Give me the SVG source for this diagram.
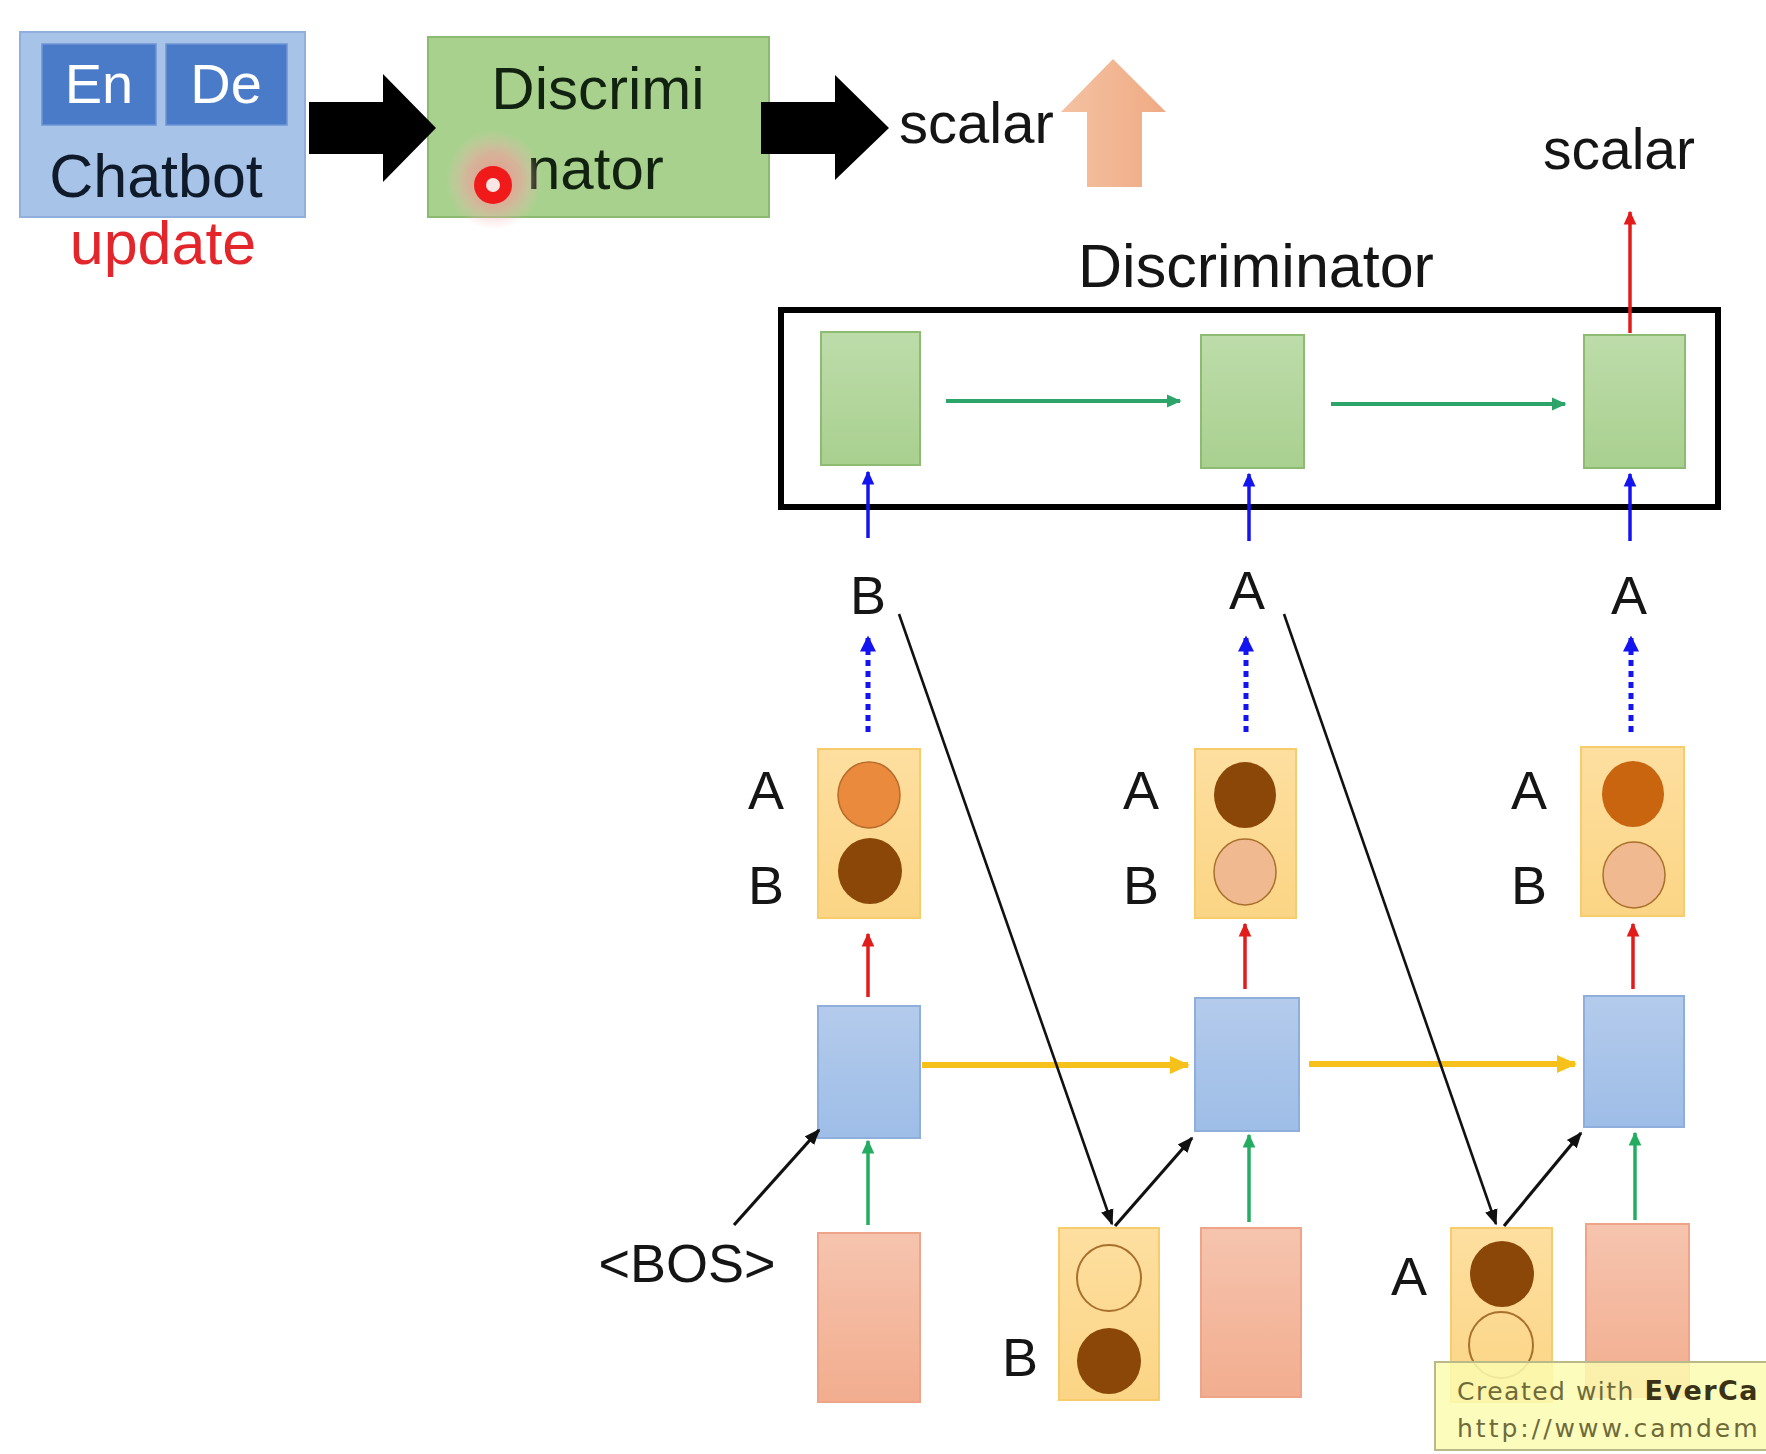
<svg xmlns="http://www.w3.org/2000/svg" width="1766" height="1454" viewBox="0 0 1766 1454">
<style>
text{font-family:"Liberation Sans",Arial,sans-serif;fill:#151515}
.lbl{font-size:54px;text-anchor:middle}
.big{font-size:60px}
.blue{fill:url(#gBlue);stroke:#8eaedb;stroke-width:2}
.green{fill:url(#gGreen);stroke:#8dbb72;stroke-width:2}
.pink{fill:url(#gPink);stroke:#eea488;stroke-width:2}
.out{fill:url(#gOut);stroke:#f6cc6c;stroke-width:2}
.empty{fill:none;stroke:#a8702c;stroke-width:2}
.dark{fill:#8a4708}
.peach{fill:#f1b98f;stroke:#a8702c;stroke-width:1.5}
.c-red{stroke:#e21b1b;stroke-width:3.5;fill:none}
.c-blue{stroke:#1414f0;stroke-width:3.5;fill:none}
.c-dot{stroke:#1414f0;stroke-width:5;fill:none;stroke-dasharray:6 5}
.c-teal{stroke:#2da56a;stroke-width:4;fill:none}
.c-green{stroke:#24ad60;stroke-width:3.5;fill:none}
.c-yel{stroke:#f6c11a;stroke-width:6;fill:none}
.c-blk{stroke:#111;stroke-width:2.6;fill:none}
.c-blk3{stroke:#111;stroke-width:3.2;fill:none}
.wm{font-family:'DejaVu Sans',Verdana,sans-serif;font-size:25px;fill:#6e6a3a}
</style>
<defs>
<linearGradient id="gBlue" x1="0" y1="0" x2="0" y2="1"><stop offset="0" stop-color="#b4cbec"/><stop offset="1" stop-color="#9ebde7"/></linearGradient>
<linearGradient id="gGreen" x1="0" y1="0" x2="0" y2="1"><stop offset="0" stop-color="#bddcaa"/><stop offset="1" stop-color="#a9d08f"/></linearGradient>
<linearGradient id="gPink" x1="0" y1="0" x2="0" y2="1"><stop offset="0" stop-color="#f6c4ae"/><stop offset="1" stop-color="#f2ad8f"/></linearGradient>
<linearGradient id="gOut" x1="0" y1="0" x2="0" y2="1"><stop offset="0" stop-color="#fedfa0"/><stop offset="1" stop-color="#fbd585"/></linearGradient>
<linearGradient id="gPeachArrow" x1="0" y1="0" x2="1" y2="0"><stop offset="0" stop-color="#f4c2a2"/><stop offset="1" stop-color="#f0aa84"/></linearGradient>
<radialGradient id="gGlow"><stop offset="0" stop-color="#f08c8c" stop-opacity="0.85"/><stop offset="0.55" stop-color="#f2a0a0" stop-opacity="0.6"/><stop offset="1" stop-color="#f8c0c0" stop-opacity="0"/></radialGradient>
<marker id="mRed" viewBox="0 0 10 10" refX="9" refY="5" markerWidth="14" markerHeight="14" markerUnits="userSpaceOnUse" orient="auto"><path d="M0,0.5 L10,5 L0,9.5 z" fill="#e21b1b"/></marker>
<marker id="mBlue" viewBox="0 0 10 10" refX="9" refY="5" markerWidth="14" markerHeight="14" markerUnits="userSpaceOnUse" orient="auto"><path d="M0,0.5 L10,5 L0,9.5 z" fill="#1414f0"/></marker>
<marker id="mBlueDot" viewBox="0 0 10 10" refX="9" refY="5" markerWidth="22" markerHeight="16" markerUnits="userSpaceOnUse" orient="auto"><path d="M0,0 L10,5 L0,10 z" fill="#1414f0"/></marker>
<marker id="mTeal" viewBox="0 0 10 10" refX="9" refY="5" markerWidth="15" markerHeight="15" markerUnits="userSpaceOnUse" orient="auto"><path d="M0,0.5 L10,5 L0,9.5 z" fill="#2da56a"/></marker>
<marker id="mGreen" viewBox="0 0 10 10" refX="9" refY="5" markerWidth="14" markerHeight="14" markerUnits="userSpaceOnUse" orient="auto"><path d="M0,0.5 L10,5 L0,9.5 z" fill="#24ad60"/></marker>
<marker id="mYel" viewBox="0 0 10 10" refX="9" refY="5" markerWidth="20" markerHeight="20" markerUnits="userSpaceOnUse" orient="auto"><path d="M0,0.5 L10,5 L0,9.5 z" fill="#f6c11a"/></marker>
<marker id="mBlk" viewBox="0 0 10 10" refX="9" refY="5" markerWidth="16" markerHeight="16" markerUnits="userSpaceOnUse" orient="auto"><path d="M0,1 L10,5 L0,9 z" fill="#111"/></marker>
</defs>
<rect width="1766" height="1454" fill="#ffffff"/>

<!-- Top section -->
<g id="chatbot">
<rect x="20" y="32" width="285" height="185" fill="#a8c3e8" stroke="#8fb0dc" stroke-width="2"/>
<rect x="42" y="44" width="114" height="81" fill="#4a7bc9" stroke="#6d95d4" stroke-width="1.5"/>
<rect x="166" y="44" width="121" height="81" fill="#4a7bc9" stroke="#6d95d4" stroke-width="1.5"/>
<text x="99" y="103" style="font-size:56px;fill:#ffffff;text-anchor:middle">En</text>
<text x="226" y="103" style="font-size:56px;fill:#ffffff;text-anchor:middle">De</text>
<text x="156" y="197" style="font-size:61px;fill:#0f1a2a;text-anchor:middle">Chatbot</text>
</g>
<g id="update-label">
<text x="163" y="264" style="font-size:61px;fill:#e3262b;text-anchor:middle">update</text>
</g>
<g id="discriminator-top">
<rect x="428" y="37" width="341" height="180" fill="#a9d18e" stroke="#8cba70" stroke-width="2"/>
<text x="598" y="109" class="big" style="text-anchor:middle;fill:#112211">Discrimi</text>
<text x="527" y="189" class="big" style="fill:#112211">nator</text>
<ellipse cx="494" cy="180" rx="48" ry="50" fill="url(#gGlow)"/>
<circle cx="493" cy="185" r="19" fill="#f01a1a"/>
<circle cx="493" cy="185" r="7" fill="#fbe6e6"/>
</g>
<g id="big-arrows">
<polygon points="309,102 383,102 383,74 436,128 383,182 383,154 309,154" fill="#000"/>
<polygon points="761,102 835,102 835,75 889,128 835,180 835,154 761,154" fill="#000"/>
</g>
<g id="scalar-top">
<text x="899" y="143" style="font-size:58px">scalar</text>
</g>
<g id="peach-arrow">
<polygon points="1113,59 1166,112 1142,112 1142,187 1087,187 1087,112 1061,112" fill="url(#gPeachArrow)"/>
</g>

<!-- Right section -->
<g id="scalar-right"><text x="1619" y="169" style="font-size:57px;text-anchor:middle">scalar</text></g>
<g id="disc-title"><text x="1256" y="287" style="font-size:61px;text-anchor:middle">Discriminator</text></g>
<g id="disc-frame"><rect x="781" y="310" width="937" height="197" fill="none" stroke="#000" stroke-width="6"/></g>
<g id="d1"><rect x="821" y="332" width="99" height="133" class="green"/></g>
<g id="d2"><rect x="1201" y="335" width="103" height="133" class="green"/></g>
<g id="d3"><rect x="1584" y="335" width="101" height="133" class="green"/></g>

<g id="tok1"><text x="868" y="614" class="lbl">B</text></g>
<g id="tok2"><text x="1247" y="609" class="lbl">A</text></g>
<g id="tok3"><text x="1629" y="614" class="lbl">A</text></g>

<g id="o1">
<rect x="818" y="749" width="102" height="169" class="out"/>
<ellipse cx="869" cy="795" rx="31" ry="33" fill="#e98a3c" stroke="#b86a2a" stroke-width="1.5"/>
<ellipse cx="870" cy="871" rx="32" ry="33" class="dark"/>
<text x="766" y="809" class="lbl">A</text>
<text x="766" y="904" class="lbl">B</text>
</g>
<g id="o2">
<rect x="1195" y="749" width="101" height="169" class="out"/>
<ellipse cx="1245" cy="795" rx="31" ry="33" class="dark"/>
<ellipse cx="1245" cy="872" rx="31" ry="33" class="peach"/>
<text x="1141" y="809" class="lbl">A</text>
<text x="1141" y="904" class="lbl">B</text>
</g>
<g id="o3">
<rect x="1581" y="747" width="103" height="169" class="out"/>
<ellipse cx="1633" cy="794" rx="31" ry="33" fill="#c9640f"/>
<ellipse cx="1634" cy="875" rx="31" ry="33" class="peach"/>
<text x="1529" y="809" class="lbl">A</text>
<text x="1529" y="904" class="lbl">B</text>
</g>

<g id="h1"><rect x="818" y="1006" width="102" height="132" class="blue"/></g>
<g id="h2"><rect x="1195" y="998" width="104" height="133" class="blue"/></g>
<g id="h3"><rect x="1584" y="996" width="100" height="131" class="blue"/></g>

<g id="x1"><rect x="818" y="1233" width="102" height="169" class="pink"/></g>
<g id="x2"><rect x="1201" y="1228" width="100" height="169" class="pink"/></g>
<g id="x3"><rect x="1586" y="1224" width="103" height="173" class="pink"/></g>

<g id="bos"><text x="687" y="1282" class="lbl">&lt;BOS&gt;</text></g>

<g id="s1">
<rect x="1059" y="1228" width="100" height="172" class="out"/>
<ellipse cx="1109" cy="1278" rx="32" ry="33" class="empty"/>
<ellipse cx="1109" cy="1361" rx="32" ry="33" class="dark"/>
<text x="1020" y="1376" class="lbl">B</text>
</g>
<g id="s2">
<rect x="1451" y="1228" width="101" height="174" class="out"/>
<ellipse cx="1502" cy="1274" rx="32" ry="33" class="dark"/>
<ellipse cx="1501" cy="1345" rx="32" ry="33" class="empty"/>
<text x="1409" y="1295" class="lbl">A</text>
</g>

<g id="connectors">
<line x1="1630" y1="333" x2="1630" y2="212" class="c-red" marker-end="url(#mRed)"/>
<line x1="946" y1="401" x2="1180" y2="401" class="c-teal" marker-end="url(#mTeal)"/>
<line x1="1331" y1="404" x2="1565" y2="404" class="c-teal" marker-end="url(#mTeal)"/>
<line x1="868" y1="538" x2="868" y2="472" class="c-blue" marker-end="url(#mBlue)"/>
<line x1="1249" y1="541" x2="1249" y2="474" class="c-blue" marker-end="url(#mBlue)"/>
<line x1="1630" y1="541" x2="1630" y2="474" class="c-blue" marker-end="url(#mBlue)"/>
<line x1="868" y1="732" x2="868" y2="637" class="c-dot" marker-end="url(#mBlueDot)"/>
<line x1="1246" y1="732" x2="1246" y2="637" class="c-dot" marker-end="url(#mBlueDot)"/>
<line x1="1631" y1="732" x2="1631" y2="637" class="c-dot" marker-end="url(#mBlueDot)"/>
<line x1="868" y1="997" x2="868" y2="934" class="c-red" marker-end="url(#mRed)"/>
<line x1="1245" y1="989" x2="1245" y2="924" class="c-red" marker-end="url(#mRed)"/>
<line x1="1633" y1="989" x2="1633" y2="924" class="c-red" marker-end="url(#mRed)"/>
<line x1="922" y1="1065" x2="1188" y2="1065" class="c-yel" marker-end="url(#mYel)"/>
<line x1="1309" y1="1064" x2="1575" y2="1064" class="c-yel" marker-end="url(#mYel)"/>
<line x1="868" y1="1225" x2="868" y2="1141" class="c-green" marker-end="url(#mGreen)"/>
<line x1="1249" y1="1222" x2="1249" y2="1135" class="c-green" marker-end="url(#mGreen)"/>
<line x1="1635" y1="1220" x2="1635" y2="1133" class="c-green" marker-end="url(#mGreen)"/>
<line x1="899" y1="614" x2="1112" y2="1224" class="c-blk" marker-end="url(#mBlk)"/>
<line x1="1284" y1="614" x2="1496" y2="1224" class="c-blk" marker-end="url(#mBlk)"/>
<line x1="734" y1="1225" x2="819" y2="1130" class="c-blk3" marker-end="url(#mBlk)"/>
<line x1="1115" y1="1226" x2="1192" y2="1138" class="c-blk3" marker-end="url(#mBlk)"/>
<line x1="1504" y1="1226" x2="1581" y2="1133" class="c-blk3" marker-end="url(#mBlk)"/>
</g>

<g id="watermark">
<rect x="1435" y="1362" width="340" height="88" fill="#fbfbb0" fill-opacity="0.85" stroke="#b9b98a" stroke-width="2"/>
<text x="1457" y="1400" class="wm" style="letter-spacing:1.5px">Created with <tspan style="font-weight:bold;font-size:27px;letter-spacing:1.5px;fill:#3a3216">EverCa</tspan></text>
<text x="1457" y="1437" class="wm" style="letter-spacing:3px">http://www.camdem</text>
</g>
</svg>
